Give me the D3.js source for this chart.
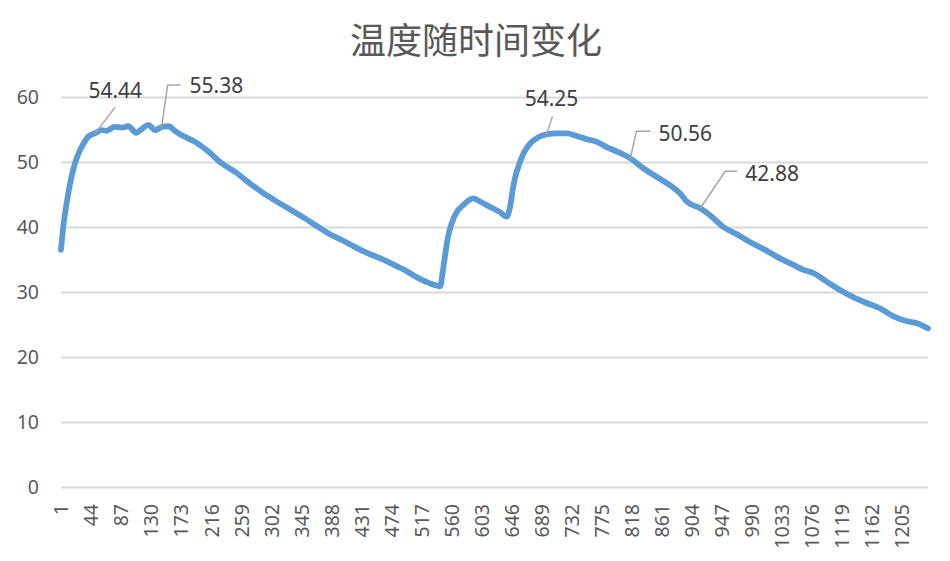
<!DOCTYPE html>
<html>
<head>
<meta charset="utf-8">
<script src="https://cdn.jsdelivr.net/npm/d3@7"></script>
<style>
  body { margin: 0; background: #fff; }
  .grid line { stroke: #d9d9d9; stroke-width: 1.8; }
  .axis text { fill: #595959; font-family: "Noto Sans", sans-serif; font-size: 19.5px; }
  .line { fill: none; stroke: #5b9bd5; stroke-width: 5.8; stroke-linejoin: round; stroke-linecap: round; }
  .leader { fill: none; stroke: #a6a6a6; stroke-width: 1.5; }
  .dlabel { fill: #404040; font-family: "Noto Sans", sans-serif; font-size: 21px; }
</style>
</head>
<body>
<div id="plot"></div>
<script>
// chart data
var title = "温度随时间变化";
var nPoints = 1242;
var xTickLabels = [1,44,87,130,173,216,259,302,345,388,431,474,517,560,603,646,689,732,775,818,861,904,947,990,1033,1076,1119,1162,1205];
var yTicks = [0,10,20,30,40,50,60];

// sample positions (category number) and temperature at each
var sampleIdx = [1,4,9,14,21,26,33,40,50,59,66,78,88,97,109,117,126,136,145,155,
    164,174,193,212,231,250,269,288,307,326,346,365,384,403,422,441,460,479,491,508,
    527,544,547,551,555,560,567,577,591,601,615,629,639,644,648,652,656,663,672,684,696,
    711,725,739,754,768,782,797,816,835,854,873,887,897,916,930,949,968,987,1007,1026,
    1045,1064,1078,1097,1116,1135,1154,1173,1192,1212,1226,1242];
var temps = [36.5,39.8,43.6,46.7,49.8,51.3,52.8,53.9,54.44,54.9,54.8,55.4,55.3,55.5,54.5,55.1,55.7,54.9,55.38,55.5,
    54.8,54.1,53.1,51.6,49.8,48.5,46.9,45.4,44.1,42.9,41.6,40.3,39.0,38.0,36.9,35.9,35.1,34.1,33.5,32.4,
    31.4,30.9,32.8,35.8,38.5,40.5,42.2,43.4,44.4,43.9,43.1,42.3,41.6,43.2,46.0,48.0,49.4,51.3,52.8,53.8,54.25,
    54.4,54.4,54.0,53.5,53.1,52.3,51.6,50.56,49.0,47.7,46.4,45.2,43.9,42.88,41.8,40.0,38.9,37.7,36.6,35.4,
    34.4,33.4,32.9,31.6,30.3,29.2,28.3,27.5,26.3,25.5,25.2,24.4];

// points that carry a data label
var labelIdx = [50,145,696,816,916];

// where each label sits relative to its point (leader bend, tail length, text spot)
var labelLayout = [
    {bend:[20,-26], tail:0,  text:[20,-43], anchor:"middle"},
    {bend:[6,-42],  tail:13, text:[28,-42], anchor:"start"},
    {bend:[6,-18],  tail:0,  text:[5,-36],  anchor:"middle"},
    {bend:[6,-27],  tail:14, text:[28,-25], anchor:"start"},
    {bend:[25,-37], tail:12, text:[45,-35], anchor:"start"}
];

var width = 950,
    height = 561,
    margin = {left:61, top:97, right:22, bottom:74},
    g_width = width-margin.left-margin.right,
    g_height = height-margin.top-margin.bottom;

var svg = d3.select("#plot")
    .append("svg")
    .attr("width", width)
    .attr("height", height);

var categories = d3.range(1, nPoints+1);
var data = sampleIdx.map(function(c,i){ return {cat:c, temp:temps[i]}; });

var xScale = d3.scalePoint()
    .domain(categories)
    .range([margin.left, margin.left+g_width]);

var yScale = d3.scaleLinear()
    .domain([0,60])
    .range([margin.top+g_height, margin.top]);

// title
svg.append("text")
    .attr("x", 476)
    .attr("y", 38)
    .attr("text-anchor","middle")
    .attr("dominant-baseline","central")
    .style("font-family",'"Noto Sans CJK SC", sans-serif')
    .style("font-size","36px")
    .style("fill","#595959")
    .text(title);

// y axis with grid
var yAxis = d3.axisLeft(yScale)
    .tickValues(yTicks)
    .tickSizeInner(-g_width)
    .tickSizeOuter(0)
    .tickPadding(22);

var gy = svg.append("g")
    .attr("class","axis grid")
    .attr("transform",`translate(${margin.left},0)`)
    .call(yAxis);
gy.select(".domain").remove();

// x axis, labels turned upright
var xAxis = d3.axisBottom(xScale)
    .tickValues(xTickLabels)
    .tickSize(0);

var gx = svg.append("g")
    .attr("class","axis")
    .attr("transform",`translate(0,${margin.top+g_height})`)
    .call(xAxis);
gx.select(".domain").remove();
gx.selectAll("text")
    .attr("transform","rotate(-90)")
    .attr("text-anchor","end")
    .attr("x",-17)
    .attr("y",0)
    .attr("dy","0.35em");

// the temperature line
var line_generator = d3.line()
    .curve(d3.curveMonotoneX)
    .x(function(d){ return xScale(d.cat); })
    .y(function(d){ return yScale(d.temp); });

svg.append("path")
    .attr("class","line")
    .attr("d", line_generator(data));

// data labels with leader lines
labelIdx.forEach(function(c,i){
    var d = data.find(function(p){ return p.cat===c; });
    var lay = labelLayout[i];
    var px = xScale(d.cat), py = yScale(d.temp);
    var bx = px+lay.bend[0], by = py+lay.bend[1];
    svg.append("path")
        .attr("class","leader")
        .attr("d", `M${px},${py}L${bx},${by}` + (lay.tail ? `L${bx+lay.tail},${by}` : ""));
    svg.append("text")
        .attr("class","dlabel")
        .attr("x", px+lay.text[0])
        .attr("y", py+lay.text[1])
        .attr("text-anchor", lay.anchor)
        .attr("dominant-baseline","central")
        .text(d3.format(".2f")(d.temp));
});
</script>
</body>
</html>
